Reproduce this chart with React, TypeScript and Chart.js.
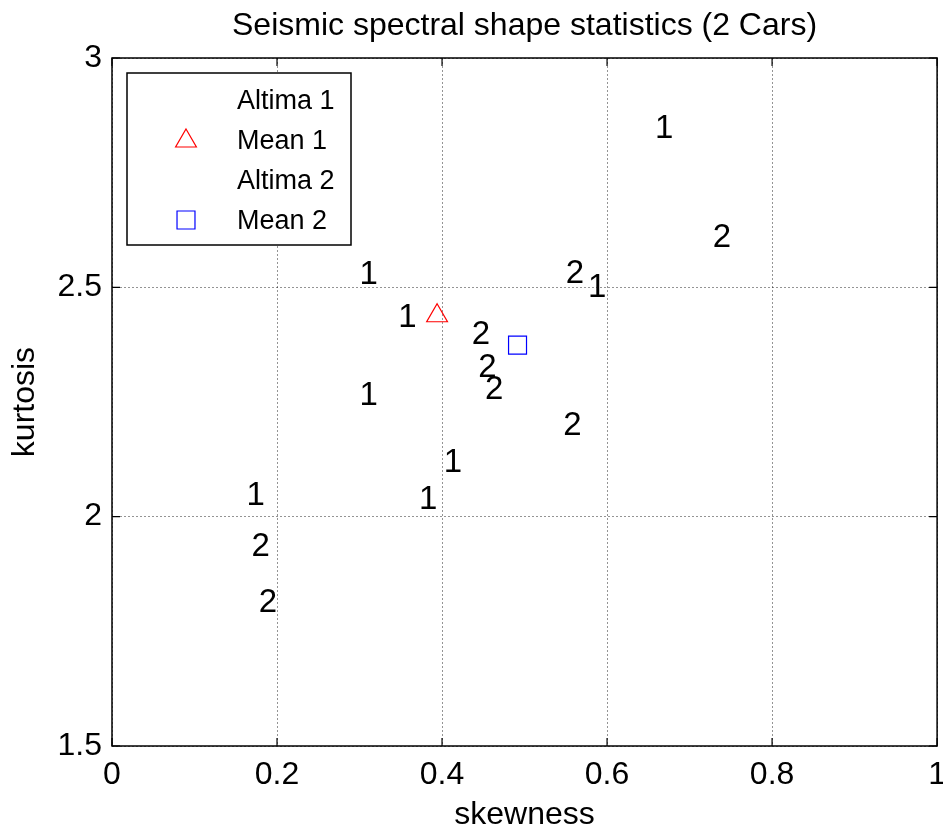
import React, { useEffect, useRef } from 'react';
import { Chart, registerables } from 'chart.js';

Chart.register(...registerables);

// ---- data ----
const altima1X = [0.658, 0.300, 0.577, 0.347, 0.300, 0.402, 0.372, 0.163];
const altima1Y = [2.845, 2.527, 2.499, 2.433, 2.263, 2.117, 2.036, 2.045];
const altima2X = [0.550, 0.728, 0.436, 0.444, 0.452, 0.547, 0.169, 0.178];
const altima2Y = [2.529, 2.608, 2.396, 2.324, 2.276, 2.198, 1.934, 1.812];
const mean1X = [0.394];
const mean1Y = [2.438];
const mean2X = [0.4915];
const mean2Y = [2.374];
const xTicks = [0, 0.2, 0.4, 0.6, 0.8, 1];
const yTicks = [1.5, 2, 2.5, 3];
const seriesNames = ['Altima 1', 'Mean 1', 'Altima 2', 'Mean 2'];
const seriesMarks = ['1', '', '2', ''];
const titleText = 'Seismic spectral shape statistics (2 Cars)';
const xTitle = 'skewness';
const yTitle = 'kurtosis';

const FONT = '"Liberation Sans", Arial, Helvetica, sans-serif';
const CANVAS_W = 951;
const CANVAS_H = 836;

const toPts = (xs: number[], ys: number[]) => xs.map((x, i) => ({ x, y: ys[i] }));

function drawMarker(ctx: CanvasRenderingContext2D, kind: string, x: number, y: number, r: number, color: string) {
  ctx.save();
  ctx.strokeStyle = color;
  ctx.lineWidth = 1.2;
  ctx.beginPath();
  if (kind === 'triangle') {
    let rad = 0;
    ctx.moveTo(x + Math.sin(rad) * r, y - Math.cos(rad) * r);
    rad += (2 * Math.PI) / 3;
    ctx.lineTo(x + Math.sin(rad) * r, y - Math.cos(rad) * r);
    rad += (2 * Math.PI) / 3;
    ctx.lineTo(x + Math.sin(rad) * r, y - Math.cos(rad) * r);
    ctx.closePath();
  } else {
    const s = Math.SQRT1_2 * r;
    ctx.rect(x - s, y - s, 2 * s, 2 * s);
  }
  ctx.stroke();
  ctx.restore();
}

const matlabPlugin = {
  id: 'matlabLook',
  afterDatasetsDraw(chart: any) {
    const ctx: CanvasRenderingContext2D = chart.ctx;
    const { left, top, right, bottom } = chart.chartArea;
    const xs = chart.scales.x;
    const ys = chart.scales.y;

    // text labels for Altima series
    chart.data.datasets.forEach((ds: any, di: number) => {
      const mark = seriesMarks[di];
      if (!mark) return;
      const meta = chart.getDatasetMeta(di);
      ctx.save();
      ctx.fillStyle = '#000';
      ctx.font = `33px ${FONT}`;
      ctx.textAlign = 'left';
      ctx.textBaseline = 'middle';
      meta.data.forEach((el: any) => {
        ctx.fillText(mark, el.x, el.y);
      });
      ctx.restore();
    });

    // box and inward ticks
    ctx.save();
    ctx.strokeStyle = '#000';
    ctx.lineWidth = 1.5;
    ctx.strokeRect(left, top, right - left, bottom - top);
    ctx.beginPath();
    const tl = 8;
    xTicks.forEach((v) => {
      const px = xs.getPixelForValue(v);
      ctx.moveTo(px, bottom);
      ctx.lineTo(px, bottom - tl);
      ctx.moveTo(px, top);
      ctx.lineTo(px, top + tl);
    });
    yTicks.forEach((v) => {
      const py = ys.getPixelForValue(v);
      ctx.moveTo(left, py);
      ctx.lineTo(left + tl, py);
      ctx.moveTo(right, py);
      ctx.lineTo(right - tl, py);
    });
    ctx.lineWidth = 1.2;
    ctx.stroke();
    ctx.restore();

    // legend
    const bx = left + 15;
    const by = top + 15;
    const bw = 224;
    const bh = 172;
    ctx.save();
    ctx.fillStyle = '#fff';
    ctx.fillRect(bx, by, bw, bh);
    ctx.strokeStyle = '#000';
    ctx.lineWidth = 1.5;
    ctx.strokeRect(bx, by, bw, bh);
    ctx.font = `27px ${FONT}`;
    ctx.fillStyle = '#000';
    ctx.textAlign = 'left';
    ctx.textBaseline = 'middle';
    seriesNames.forEach((name, i) => {
      const ry = by + 29 + i * 40;
      ctx.fillText(name, bx + 110, ry);
      const ds = chart.data.datasets[i];
      if (ds.pointStyle === 'triangle') drawMarker(ctx, 'triangle', bx + 59, ry - 1, 12, ds.borderColor);
      if (ds.pointStyle === 'rect') drawMarker(ctx, 'rect', bx + 59, ry - 2, 12.7, ds.borderColor);
    });
    ctx.restore();
  },
};

export default function App() {
  const ref = useRef<HTMLCanvasElement | null>(null);
  useEffect(() => {
    if (!ref.current) return;
    const chart = new Chart(ref.current, {
      type: 'scatter',
      data: {
        datasets: [
          {
            label: seriesNames[0],
            data: toPts(altima1X, altima1Y),
            pointRadius: 0,
            pointHoverRadius: 0,
            borderColor: '#000',
            backgroundColor: 'transparent',
          },
          {
            label: seriesNames[1],
            data: toPts(mean1X, mean1Y),
            pointStyle: 'triangle',
            pointRadius: 12,
            borderColor: '#ff0000',
            backgroundColor: 'transparent',
            borderWidth: 1.2,
          },
          {
            label: seriesNames[2],
            data: toPts(altima2X, altima2Y),
            pointRadius: 0,
            pointHoverRadius: 0,
            borderColor: '#000',
            backgroundColor: 'transparent',
          },
          {
            label: seriesNames[3],
            data: toPts(mean2X, mean2Y),
            pointStyle: 'rect',
            pointRadius: 12.7,
            borderColor: '#0000ff',
            backgroundColor: 'transparent',
            borderWidth: 1.2,
          },
        ],
      } as any,
      options: {
        responsive: false,
        animation: false,
        devicePixelRatio: 1,
        layout: { padding: { left: 0, right: 6, top: 0, bottom: 0 } },
        plugins: {
          legend: { display: false },
          tooltip: { enabled: false },
          title: {
            display: true,
            text: titleText,
            fullSize: false,
            color: '#000',
            font: { family: FONT, size: 32, weight: 'normal', lineHeight: 1.2 },
            padding: { top: 7, bottom: 12.6 },
          },
        },
        scales: {
          x: {
            type: 'linear',
            min: 0,
            max: 1,
            afterBuildTicks: (s: any) => {
              s.ticks = xTicks.map((v) => ({ value: v }));
            },
            afterFit: (s: any) => {
              s.height = 90;
              s.paddingLeft = 0;
              s.paddingRight = 0;
            },
            ticks: {
              color: '#000',
              font: { family: FONT, size: 32 },
              padding: 10,
              maxRotation: 0,
              autoSkip: false,
              callback: (v: any) => String(v),
            },
            grid: { color: 'rgba(0,0,0,0.42)', drawTicks: false, lineWidth: 1 },
            border: { display: false, dash: [2, 2] },
            title: {
              display: true,
              text: xTitle,
              color: '#000',
              font: { family: FONT, size: 32, lineHeight: 1.2 },
              padding: { top: 0, bottom: 2 },
            },
          },
          y: {
            type: 'linear',
            min: 1.5,
            max: 3,
            afterBuildTicks: (s: any) => {
              s.ticks = yTicks.map((v) => ({ value: v }));
            },
            afterFit: (s: any) => {
              s.width = 112;
              s.paddingTop = 0;
              s.paddingBottom = 0;
            },
            ticks: {
              color: '#000',
              font: { family: FONT, size: 32 },
              padding: 10,
              autoSkip: false,
              callback: (v: any) => String(v),
            },
            grid: { color: 'rgba(0,0,0,0.42)', drawTicks: false, lineWidth: 1 },
            border: { display: false, dash: [2, 2] },
            title: {
              display: true,
              text: yTitle,
              color: '#000',
              font: { family: FONT, size: 32, lineHeight: 1.2 },
              padding: { top: 6, bottom: 0 },
            },
          },
        },
      } as any,
      plugins: [matlabPlugin],
    });
    return () => chart.destroy();
  }, []);

  return (
    <div
      style={{
        position: 'absolute',
        left: 0,
        top: 0,
        width: 943,
        height: CANVAS_H,
        overflow: 'hidden',
        background: '#fff',
      }}
    >
      <canvas
        ref={ref}
        width={CANVAS_W}
        height={CANVAS_H}
        style={{ display: 'block', width: CANVAS_W, height: CANVAS_H }}
      />
    </div>
  );
}
